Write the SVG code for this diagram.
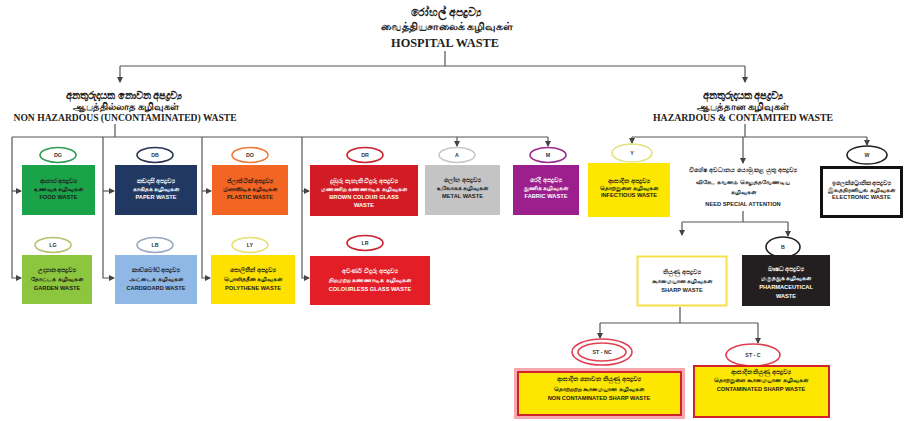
<svg xmlns="http://www.w3.org/2000/svg" width="907" height="421" viewBox="0 0 907 421">
<style>
.bg{fill:#ffffff}
.hd{font-family:"Liberation Serif","Noto Sans",serif;font-weight:bold;fill:#222;text-anchor:middle}
.t{font-family:"Liberation Sans","Noto Sans",sans-serif;font-weight:bold;font-size:5.7px;text-anchor:middle}
.s{font-family:"Liberation Sans","Noto Sans",sans-serif;font-weight:bold;font-size:6.3px;text-anchor:middle}
.dk{fill:#1a1a1a}
.wt{fill:#ffffff}
.ln{fill:none;stroke:#555;stroke-width:1.2}
.ov{fill:#ffffff;stroke-width:1.6}
.ot{font-family:"Liberation Sans",sans-serif;font-weight:bold;font-size:5.3px;text-anchor:middle;fill:#333}
</style>
<defs>
<marker id="ar" viewBox="0 0 6 6" refX="5" refY="3" markerWidth="5" markerHeight="5" orient="auto">
<path d="M0,0 L6,3 L0,6 Z" fill="#444"/>
</marker>
</defs>
<rect class="bg" x="0" y="0" width="907" height="421"/>

<g id="title">
<text class="hd" x="446" y="16" font-size="10.5">රෝහල් අපද්‍රව්‍ය</text>
<text class="hd" x="447" y="30" font-size="11">வைத்தியசாலைக் கழிவுகள்</text>
<text class="hd" x="445" y="47" font-size="12.3">HOSPITAL WASTE</text>
</g>

<g id="connectors">
<path class="ln" d="M445,51 V66 M120,66 H745"/>
<path class="ln" d="M120,66 V82" marker-end="url(#ar)"/>
<path class="ln" d="M745,66 V82" marker-end="url(#ar)"/>
<path class="ln" d="M115,124 V137 M12,137 H548"/>
<path class="ln" d="M12,137 V278 H21" marker-end="url(#ar)"/>
<path class="ln" d="M12,191 H21" marker-end="url(#ar)"/>
<path class="ln" d="M103,137 V278 H114" marker-end="url(#ar)"/>
<path class="ln" d="M103,191 H114" marker-end="url(#ar)"/>
<path class="ln" d="M202,137 V278 H210" marker-end="url(#ar)"/>
<path class="ln" d="M202,191 H211" marker-end="url(#ar)"/>
<path class="ln" d="M302,137 V278 H309" marker-end="url(#ar)"/>
<path class="ln" d="M302,191 H309" marker-end="url(#ar)"/>
<path class="ln" d="M457,137 V146" marker-end="url(#ar)"/>
<path class="ln" d="M548,137 V146" marker-end="url(#ar)"/>
<path class="ln" d="M745,124 V137 M632,137 H867"/>
<path class="ln" d="M632,137 V143" marker-end="url(#ar)"/>
<path class="ln" d="M743,137 V163" marker-end="url(#ar)"/>
<path class="ln" d="M867,137 V145" marker-end="url(#ar)"/>
<path class="ln" d="M743,211 V222 M682,222 H788"/>
<path class="ln" d="M682,222 V235" marker-end="url(#ar)"/>
<path class="ln" d="M788,222 V236" marker-end="url(#ar)"/>
<path class="ln" d="M680,307 V323 M600,323 H758"/>
<path class="ln" d="M600,323 V338" marker-end="url(#ar)"/>
<path class="ln" d="M758,323 V343" marker-end="url(#ar)"/>
</g>

<g id="non-hazardous">
<text class="hd" x="124" y="99" font-size="10">අනතුරුදායක නොවන අපද්‍රව්‍ය</text>
<text class="hd" x="126" y="110" font-size="10">ஆபத்தில்லாத கழிவுகள்</text>
<text class="hd" x="125" y="121" font-size="9.6">NON HAZARDOUS (UNCONTAMINATED) WASTE</text>
</g>

<g id="hazardous">
<text class="hd" x="743" y="99" font-size="10">අනතුරුදායක අපද්‍රව්‍ය</text>
<text class="hd" x="743" y="110" font-size="10">ஆபத்தான கழிவுகள்</text>
<text class="hd" x="743" y="121" font-size="9.8">HAZARDOUS &amp; CONTAMITED WASTE</text>
</g>

<g id="food">
<ellipse class="ov" cx="58" cy="155" rx="18" ry="7.5" stroke="#2e9e55"/>
<text class="ot" x="58" y="157">DG</text>
<rect x="22" y="165" width="73" height="50" fill="#1ba34a"/>
<text class="s dk" x="58.5" y="183">ආහාර අපද්‍රව්‍ය</text>
<text class="s dk" x="58.5" y="191">உணவுக் கழிவுகள்</text>
<text class="t dk" x="58.5" y="199">FOOD WASTE</text>
</g>

<g id="paper">
<ellipse class="ov" cx="155" cy="155" rx="18" ry="7.5" stroke="#2a3350"/>
<text class="ot" x="155" y="157">DB</text>
<rect x="115" y="165" width="82" height="50" fill="#213862"/>
<text class="s wt" x="156" y="183">කඩදාසි අපද්‍රව්‍ය</text>
<text class="s wt" x="156" y="191">காகிதக் கழிவுகள்</text>
<text class="t wt" x="156" y="199">PAPER WASTE</text>
</g>

<g id="plastic">
<ellipse class="ov" cx="250" cy="155" rx="18" ry="7.5" stroke="#f07a3a"/>
<text class="ot" x="250" y="157">DO</text>
<rect x="212" y="165" width="76" height="50" fill="#f26522"/>
<text class="s dk" x="250" y="183">ප්ලාස්ටික් අපද්‍රව්‍ය</text>
<text class="s dk" x="250" y="191">பிளாஸ்டிக் கழிவுகள்</text>
<text class="t dk" x="250" y="199">PLASTIC WASTE</text>
</g>

<g id="brown-glass">
<ellipse class="ov" cx="365" cy="155" rx="18" ry="7.5" stroke="#c8202e"/>
<text class="ot" x="365" y="157">DR</text>
<rect x="310" y="165" width="108" height="51" fill="#d21b24"/>
<text class="s wt" x="364" y="183">දුඹුරු පැහැති වීදුරු අපද්‍රව්‍ය</text>
<text class="s wt" x="364" y="191">மண்ணிற கண்ணாடிக் கழிவுகள்</text>
<text class="t wt" x="364" y="199">BROWN COLOUR GLASS</text>
<text class="t wt" x="364" y="207">WASTE</text>
</g>

<g id="metal">
<ellipse class="ov" cx="457" cy="155" rx="18" ry="7.5" stroke="#c8c8c8"/>
<text class="ot" x="457" y="157">A</text>
<rect x="425" y="165" width="75" height="50" fill="#c4c4c4"/>
<text class="s dk" x="462.5" y="182">ලෝහ අපද්‍රව්‍ය</text>
<text class="s dk" x="462.5" y="190">உலோகக் கழிவுகள்</text>
<text class="t dk" x="462.5" y="198">METAL WASTE</text>
</g>

<g id="fabric">
<ellipse class="ov" cx="548" cy="155" rx="18" ry="7.5" stroke="#9a2a8c"/>
<text class="ot" x="548" y="157">M</text>
<rect x="513" y="165" width="66" height="50" fill="#9c1f8e"/>
<text class="s wt" x="546" y="182">රෙදි අපද්‍රව්‍ය</text>
<text class="s wt" x="546" y="190">துணிக் கழிவுகள்</text>
<text class="t wt" x="546" y="198">FABRIC WASTE</text>
</g>

<g id="infectious">
<ellipse class="ov" cx="632" cy="153" rx="20" ry="9" stroke="#e4e27a"/>
<text class="ot" x="632" y="155">Y</text>
<rect x="588" y="163" width="82" height="54" fill="#fde600"/>
<text class="s dk" x="629" y="183">ආසාදිත අපද්‍රව්‍ය</text>
<text class="s dk" x="629" y="190">தொற்றுள்ள கழிவுகள்</text>
<text class="t dk" x="629" y="197">INFECTIOUS WASTE</text>
</g>

<g id="special-attention">
<text class="s dk" x="743" y="172">විශේෂ අවධානය යොමු කළ යුතු අපද්‍රව්‍ය</text>
<text class="s dk" x="743" y="184">விசேட கவனம் செலுத்தவேண்டிய</text>
<text class="s dk" x="743" y="194">கழிவுகள்</text>
<text class="t dk" x="743" y="206">NEED SPECIAL ATTENTION</text>
</g>

<g id="electronic">
<ellipse class="ov" cx="867" cy="155" rx="20" ry="9" stroke="#222"/>
<text class="ot" x="867" y="157">W</text>
<rect x="821.5" y="167.5" width="80" height="49" fill="#ffffff" stroke="#111" stroke-width="3"/>
<text class="s dk" x="861.5" y="185">ඉලෙක්ට්‍රොනික අපද්‍රව්‍ය</text>
<text class="s dk" x="861.5" y="192">இலத்திரனியல் கழிவுகள்</text>
<text class="t dk" x="861.5" y="199">ELECTRONIC WASTE</text>
</g>

<g id="garden">
<ellipse class="ov" cx="53" cy="245" rx="18" ry="7.5" stroke="#b4c46a"/>
<text class="ot" x="53" y="247">LG</text>
<rect x="22" y="255" width="70" height="49" fill="#8cc63f"/>
<text class="s dk" x="57" y="272">උද්‍යාන අපද්‍රව්‍ය</text>
<text class="s dk" x="57" y="281">தோட்டக் கழிவுகள்</text>
<text class="t dk" x="57" y="290">GARDEN WASTE</text>
</g>

<g id="cardboard">
<ellipse class="ov" cx="155" cy="245" rx="18" ry="7.5" stroke="#9aa8c4"/>
<text class="ot" x="155" y="247">LB</text>
<rect x="115" y="255" width="82" height="49" fill="#8fb8e6"/>
<text class="s dk" x="156" y="272">කාඩ්බෝඩ් අපද්‍රව්‍ය</text>
<text class="s dk" x="156" y="281">அட்டைக் கழிவுகள்</text>
<text class="t dk" x="156" y="290">CARDBOARD WASTE</text>
</g>

<g id="polythene">
<ellipse class="ov" cx="250" cy="245" rx="18" ry="7.5" stroke="#e8e070"/>
<text class="ot" x="250" y="247">LY</text>
<rect x="211" y="255" width="84" height="49" fill="#ffe100"/>
<text class="s dk" x="253" y="272">පොලිතීන් අපද්‍රව්‍ය</text>
<text class="s dk" x="253" y="281">பொலித்தீன் கழிவுகள்</text>
<text class="t dk" x="253" y="290">POLYTHENE WASTE</text>
</g>

<g id="colourless-glass">
<ellipse class="ov" cx="365" cy="243" rx="18" ry="7.5" stroke="#c8202e"/>
<text class="ot" x="365" y="245">LR</text>
<rect x="310" y="256" width="120" height="49" fill="#e41e26"/>
<text class="s wt" x="370" y="273">අවර්ණ වීදුරු අපද්‍රව්‍ය</text>
<text class="s wt" x="370" y="282">நிறமற்ற கண்ணாடிக் கழிவுகள்</text>
<text class="t wt" x="370" y="291">COLOURLESS GLASS WASTE</text>
</g>

<g id="sharp">
<rect x="637.5" y="256.5" width="89" height="49" fill="#ffffff" stroke="#f5e04a" stroke-width="2"/>
<text class="s dk" x="682" y="274">තියුණු අපද්‍රව්‍ය</text>
<text class="s dk" x="682" y="283">கூர்மையான கழிவுகள்</text>
<text class="t dk" x="682" y="292">SHARP WASTE</text>
</g>

<g id="pharmaceutical">
<ellipse class="ov" cx="783" cy="247" rx="17" ry="10" stroke="#222"/>
<text class="ot" x="783" y="249">B</text>
<rect x="742" y="255" width="88" height="51" fill="#231f20"/>
<text class="s wt" x="786" y="271">ඖෂධ අපද්‍රව්‍ය</text>
<text class="s wt" x="786" y="280">மருந்துக் கழிவுகள்</text>
<text class="t wt" x="786" y="289">PHARMACEUTICAL</text>
<text class="t wt" x="786" y="298">WASTE</text>
</g>

<g id="non-contaminated-sharp">
<ellipse class="ov" cx="602" cy="352" rx="30" ry="13" stroke="#e04050"/>
<ellipse class="ov" cx="602" cy="352" rx="24" ry="9" stroke="#e04050" stroke-width="1.2"/>
<text class="ot" x="602" y="354">ST - NC</text>
<rect x="514" y="368" width="171" height="51" fill="#f7a7b0"/>
<rect x="518" y="372" width="163" height="43" fill="#fde600" stroke="#d2232a" stroke-width="2"/>
<text class="s dk" x="599" y="381">ආසාදිත නොවන තියුණු අපද්‍රව්‍ය</text>
<text class="s dk" x="599" y="391">தொற்றற்ற கூர்மையான கழிவுகள்</text>
<text class="t dk" x="599" y="400">NON CONTAMINATED SHARP WASTE</text>
</g>

<g id="contaminated-sharp">
<ellipse class="ov" cx="753" cy="355" rx="27" ry="11" stroke="#e04050"/>
<text class="ot" x="753" y="357">ST - C</text>
<rect x="694" y="366" width="135" height="51" fill="#fde600" stroke="#d2232a" stroke-width="2"/>
<text class="s dk" x="761" y="374">ආසාදිත තියුණු අපද්‍රව්‍ය</text>
<text class="s dk" x="761" y="382">தொற்றுள்ள கூர்மையான கழிவுகள்</text>
<text class="t dk" x="761" y="391">CONTAMINATED SHARP WASTE</text>
</g>
</svg>
